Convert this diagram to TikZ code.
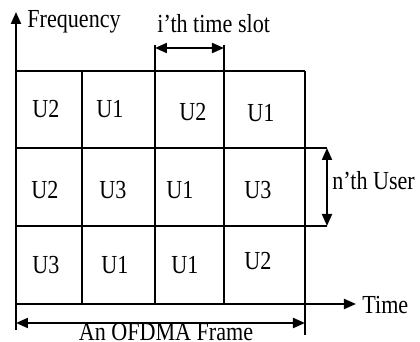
\documentclass[tikz,border=0pt]{standalone}
\usepackage{fontspec}
\setmainfont{Liberation Serif}[FakeStretch=0.85]
\usetikzlibrary{arrows.meta}

\begin{document}
\begin{tikzpicture}[
  x=0.5pt, y=-0.5pt,
  font=\fontsize{13}{15}\selectfont,
  line/.style={line width=1pt},
  arrow/.style={-{Triangle[length=6pt,width=5pt]},line width=1pt},
  twoway/.style={{Triangle[length=6pt,width=5pt]}-{Triangle[length=6pt,width=5pt]},line width=1pt},
  label/.style={inner sep=0pt,anchor=base west},
  user/.style={inner sep=0pt,anchor=base},
]
\useasboundingbox (0,0) rectangle (420,342);

% grid lines of the frame
\draw[line] (16,71) -- (305,71);
\draw[line] (16,148) -- (327,148);
\draw[line] (16,226) -- (327,226);
\draw[line] (82,71) -- (82,304);
\draw[line] (155,45) -- (155,304);
\draw[line] (224,45) -- (224,304);
\draw[line] (305,71) -- (305,335);

% axes
\coordinate (fbot) at (16,330);
\coordinate (ftop) at (16,12);
\coordinate (tleft) at (16,304);
\coordinate (tright) at (356,304);
\draw[arrow] (fbot) -- (ftop);
\draw[arrow] (tleft) -- (tright);
\node[label] (freq) at (27,28) {Frequency};
\node[label] (time) at (362,314) {Time};

% slot, user and frame markers
\coordinate (sl) at (155,48);
\coordinate (sr) at (224,48);
\draw[twoway] (sl) -- (sr);
\node[label] (slot) at (157,33) {i'th time slot};

\coordinate (ut) at (327,148);
\coordinate (ub) at (327,226);
\draw[twoway] (ut) -- (ub);
\node[label] (nuser) at (332,190) {n'th User};

\coordinate (fl) at (16,323);
\coordinate (fr) at (305,323);
\draw[twoway] (fl) -- (fr);
\node[user] (frame) at (166,341) {An OFDMA Frame};

% users in each cell
\node[user] (c11) at (46,118) {U2};
\node[user] (c12) at (110,118) {U1};
\node[user] (c13) at (193,121) {U2};
\node[user] (c14) at (261,122) {U1};
\node[user] (c21) at (45,199) {U2};
\node[user] (c22) at (113,199) {U3};
\node[user] (c23) at (180,199) {U1};
\node[user] (c24) at (258,199) {U3};
\node[user] (c31) at (46,274) {U3};
\node[user] (c32) at (115,274) {U1};
\node[user] (c33) at (185,274) {U1};
\node[user] (c34) at (258,270) {U2};

\end{tikzpicture}
\end{document}
